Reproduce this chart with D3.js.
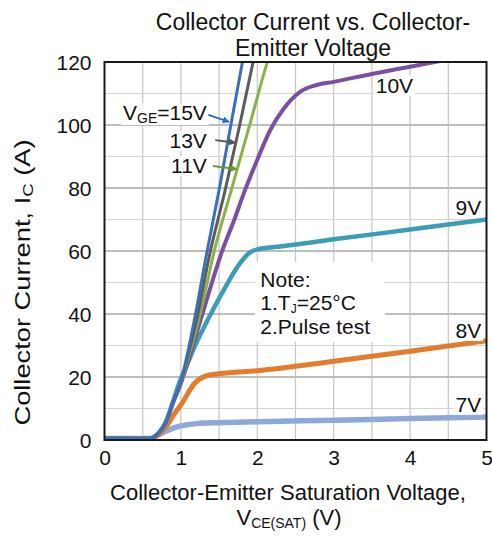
<!DOCTYPE html>
<html><head><meta charset="utf-8">
<script src="https://cdn.jsdelivr.net/npm/d3@7"></script>
<style>body{margin:0;background:#fff}svg{display:block;font-family:Arial,"Liberation Sans",sans-serif}</style>
</head><body><svg id="c" width="492" height="536"></svg>
<script>
// ---- data ----
const xTicks = [0, 1, 2, 3, 4, 5];
const yTicks = [0, 20, 40, 60, 80, 100, 120];
const seriesNames = ["7V", "8V", "9V", "10V", "11V", "13V", "15V"];
const vge7  = [[0,0.5],[0.6,0.5],[0.7,1.5],[0.8,2.8],[0.9,3.8],[1.0,4.5],[1.2,5.2],[1.5,5.5],[2,5.8],[3,6.3],[4,6.8],[5,7.3]];
const vge8  = [[0,0.5],[0.6,0.5],[0.66,1],[0.79,3.7],[0.92,8.5],[1.0,11.1],[1.18,18],[1.32,20.3],[1.5,21],[2,22],[3,25],[4,28.2],[5,31.5]];
const vge9  = [[0,0.5],[0.6,0.5],[0.7,2],[0.8,5.5],[0.9,12.5],[1.0,19.5],[1.1,25],[1.16,28.6],[1.34,37.6],[1.56,47.6],[1.77,56],[1.9,59.5],[2.0,60.5],[2.3,61.4],[3,63.7],[4,66.8],[5,70]];
const vge10 = [[0,0.5],[0.6,0.5],[0.7,2],[0.8,5.5],[0.9,12],[1.0,18],[1.1,25.5],[1.2,33.5],[1.3,41.5],[1.4,49.5],[1.53,59.3],[1.7,70],[1.84,79.4],[2.0,89],[2.17,98.4],[2.34,105],[2.56,110.5],[2.78,112.7],[3.0,113.7],[3.5,116.2],[4.0,118.5],[4.5,120.8]];
const vge11 = [[0,0.5],[0.6,0.5],[0.7,2],[0.8,5.5],[0.9,12],[1.0,18],[1.1,26.5],[1.2,35],[1.3,45],[1.43,59.3],[1.66,79.4],[1.9,100],[2.14,120.6],[2.2,125]];
const vge13 = [[0,0.5],[0.6,0.5],[0.7,2],[0.8,5.5],[0.9,12],[1.0,18.3],[1.1,27.5],[1.2,37.5],[1.38,59.3],[1.58,79.4],[1.77,100],[1.95,120.6],[2.0,126]];
const vge15 = [[0,0.5],[0.6,0.5],[0.7,2],[0.8,5.5],[0.9,12],[1.0,18.5],[1.1,29],[1.2,41],[1.32,57],[1.5,79.4],[1.65,99.5],[1.81,120.6],[1.85,126]];
const seriesData = [vge7, vge8, vge9, vge10, vge11, vge13, vge15];
const seriesColors = ["#90a8d8", "#e27d2e", "#3c9db6", "#7a50a2", "#8bb24a", "#5c5c5c", "#3a70b8"];
const seriesWidths = [5.5, 5, 4.5, 4, 3, 3, 3];

// ---- layout ----
const svg = d3.select("#c");
const x = d3.scaleLinear().domain([0, 5]).range([104.5, 486.5]);
const y = d3.scaleLinear().domain([0, 120]).range([440, 62]);
const font = 'Arial, "Liberation Sans", sans-serif';

svg.append("rect").attr("width", 492).attr("height", 536).attr("fill", "#fff");

// grid
const g = svg.append("g");
g.selectAll(".vg").data(d3.range(0.5, 5, 0.5)).join("line")
  .attr("x1", d => x(d)).attr("x2", d => x(d)).attr("y1", y(0)).attr("y2", y(120))
  .attr("stroke", "#c6c6c6").attr("stroke-width", 1.2);
g.selectAll(".hg").data(d3.range(10, 120, 10)).join("line")
  .attr("y1", d => y(d)).attr("y2", d => y(d)).attr("x1", x(0)).attr("x2", x(5))
  .attr("stroke", d => d % 20 === 0 ? "#bdbdbd" : "#d4d4d4").attr("stroke-width", d => d % 20 === 0 ? 1.8 : 1.2);

// clip
svg.append("clipPath").attr("id", "pc").append("rect")
  .attr("x", x(0)).attr("y", y(120)).attr("width", x(5) - x(0)).attr("height", y(0) - y(120));

const line = d3.line().x(d => x(d[0])).y(d => y(d[1])).curve(d3.curveMonotoneX);
const lg = svg.append("g").attr("clip-path", "url(#pc)");
seriesData.forEach((s, i) => {
  lg.append("path").datum(s).attr("d", line).attr("fill", "none")
    .attr("stroke", seriesColors[i]).attr("stroke-width", seriesWidths[i])
    .attr("stroke-linejoin", "round").attr("stroke-linecap", "round");
});

// labels with white background
function label(txt, vx, vy, anchor) {
  const t = svg.append("text").attr("x", x(vx)).attr("y", y(vy)).attr("text-anchor", anchor || "start")
    .attr("font-size", 21).attr("fill", "#111").text(txt);
  const b = t.node().getBBox();
  svg.insert("rect", () => t.node()).attr("x", b.x - 2).attr("y", b.y + 2).attr("width", b.width + 4).attr("height", b.height - 3).attr("fill", "#fff");
  return t;
}
label("10V", 3.55, 110.2);
label("9V", 4.93, 71.4, "end");
label("8V", 4.93, 32.4, "end");
label("7V", 4.93, 9, "end");

// note box
svg.append("rect").attr("x", x(1.97)).attr("y", y(56.5)).attr("width", x(3.67) - x(1.97)).attr("height", y(31.1) - y(56.5)).attr("fill", "#fff");
svg.append("text").attr("x", x(2.04)).attr("y", y(48.7)).attr("font-size", 21).attr("fill", "#111").text("Note:");
const n2 = svg.append("text").attr("x", x(2.04)).attr("y", y(41.2)).attr("font-size", 21).attr("fill", "#111");
n2.append("tspan").text("1.T");
n2.append("tspan").attr("font-size", 12).attr("dy", 3).text("J");
n2.append("tspan").attr("dy", -3).text("=25°C");
svg.append("text").attr("x", x(2.04)).attr("y", y(33.6)).attr("font-size", 21).attr("fill", "#111").text("2.Pulse test");

// VGE annotations with arrows
const defs = svg.append("defs");
function marker(id, col) {
  defs.append("marker").attr("id", id).attr("viewBox", "0 0 10 10").attr("refX", 9).attr("refY", 5)
    .attr("markerWidth", 3.5).attr("markerHeight", 3.5).attr("orient", "auto")
    .append("path").attr("d", "M0,0L10,5L0,10z").attr("fill", col);
}
marker("m15", "#2f6bc0"); marker("m13", "#555"); marker("m11", "#6a9a30");
function wlabel(parts, vx, vy) {
  const t = svg.append("text").attr("x", x(vx)).attr("y", y(vy)).attr("text-anchor", "end").attr("font-size", 21).attr("fill", "#111");
  parts(t);
  const b = t.node().getBBox();
  svg.insert("rect", () => t.node()).attr("x", b.x - 2).attr("y", b.y + 2).attr("width", b.width + 4).attr("height", b.height - 3).attr("fill", "#fff");
}
wlabel(t => { t.append("tspan").text("V"); t.append("tspan").attr("font-size", 14).attr("dy", 3).text("GE"); t.append("tspan").attr("dy", -3).text("=15V"); }, 1.34, 101.6);
wlabel(t => t.text("13V"), 1.34, 92.7);
wlabel(t => t.text("11V"), 1.34, 84.8);
function arrow(x1, y1, x2, y2, col, m) {
  svg.append("line").attr("x1", x(x1)).attr("y1", y(y1)).attr("x2", x(x2)).attr("y2", y(y2))
    .attr("stroke", col).attr("stroke-width", 2).attr("marker-end", `url(#${m})`);
}
arrow(1.36, 103.2, 1.63, 101, "#2f6bc0", "m15");
arrow(1.45, 95.2, 1.71, 94.4, "#555", "m13");
arrow(1.42, 87, 1.73, 86, "#6a9a30", "m11");

// frame
svg.append("rect").attr("x", x(0)).attr("y", y(120)).attr("width", x(5) - x(0)).attr("height", y(0) - y(120))
  .attr("fill", "none").attr("stroke", "#1a1a1a").attr("stroke-width", 2);

// axes tick labels
const xa = d3.axisBottom(x).tickValues(xTicks).tickSize(0).tickPadding(10).tickFormat(d3.format("d"));
const xg = svg.append("g").attr("transform", `translate(0,${y(0)})`).call(xa);
xg.select(".domain").remove();
xg.selectAll("text").attr("font-size", 21).attr("font-family", font).attr("fill", "#111").attr("dy", "0.72em");
const ya = d3.axisLeft(y).tickValues(yTicks).tickSize(0).tickPadding(13).tickFormat(d3.format("d"));
const yg = svg.append("g").attr("transform", `translate(${x(0)},0)`).call(ya);
yg.select(".domain").remove();
yg.selectAll("text").attr("font-size", 21).attr("font-family", font).attr("fill", "#111").attr("dy", "0.36em");

// titles
svg.append("text").attr("text-anchor", "middle").attr("font-size", 23).attr("fill", "#111")
  .attr("x", 313).attr("y", 30).text("Collector Current vs. Collector-");
svg.append("text").attr("text-anchor", "middle").attr("font-size", 23).attr("fill", "#111")
  .attr("x", 313).attr("y", 56).text("Emitter Voltage");

const xt = svg.append("text").attr("text-anchor", "middle").attr("font-size", 22).attr("fill", "#111");
xt.append("tspan").attr("x", 288).attr("y", 500).text("Collector-Emitter Saturation Voltage,");
const xt2 = svg.append("text").attr("text-anchor", "middle").attr("x", 289).attr("y", 525).attr("font-size", 22).attr("fill", "#111");
xt2.append("tspan").text("V");
xt2.append("tspan").attr("font-size", 14).attr("dy", 3).text("CE(SAT)");
xt2.append("tspan").attr("dy", -3).text(" (V)");

const yt = svg.append("text").attr("text-anchor", "middle").attr("font-size", 22).attr("fill", "#111")
  .attr("transform", "translate(30,282.5) rotate(-90) scale(1.24,1)");
yt.append("tspan").text("Collector Current, I");
yt.append("tspan").attr("font-size", 15).attr("dy", 3).text("C");
yt.append("tspan").attr("dy", -3).text(" (A)");
</script></body></html>
